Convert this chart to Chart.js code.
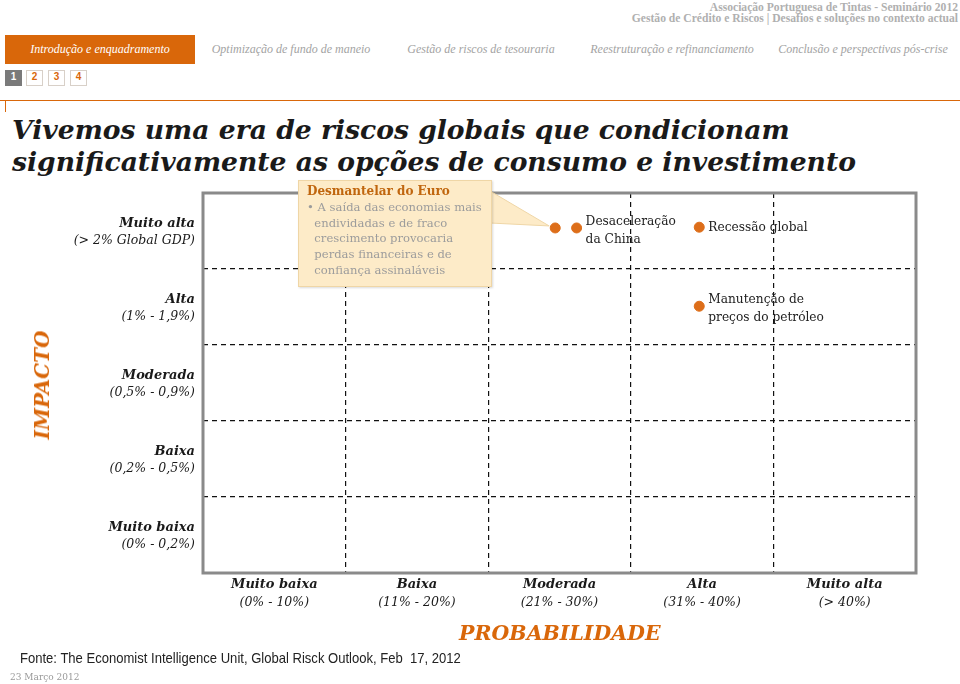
<!DOCTYPE html>
<html>
<head>
<meta charset="utf-8">
<script src="https://cdn.jsdelivr.net/npm/chart.js@4/dist/chart.umd.min.js"></script>
<style>
  body { margin: 0; width: 960px; height: 684px; position: relative; overflow: hidden; background: #fff; font-family: "DejaVu Serif", serif; }
  #chartBox { position: absolute; left: 0; top: 0; width: 960px; height: 684px; }
  .abs { position: absolute; white-space: nowrap; }
  .head { right: 2px; font-family: "Liberation Serif", serif; font-weight: bold; color: #b0b0b0; font-size: 11.6px; text-align: right; line-height: 11px; }
  .tab { top: 42px; font-family: "Liberation Serif", serif; font-style: italic; color: #a3a3a3; font-size: 12px; transform: translateX(-50%); }
  .tabOn { position: absolute; left: 5px; top: 35px; width: 190px; height: 29px; background: #d9670a; }
  .tab.on { color: #fff; }
  .pg { top: 70px; width: 15px; height: 14px; line-height: 14px; text-align: center; font: bold 10px "Liberation Sans", sans-serif; color: #d9670a; border: 1px solid #d8d0c8; }
  .pg.on { background: #7a7a7a; color: #fff; border-color: #7a7a7a; }
  #rule { left: 0; top: 100px; width: 960px; height: 1px; background: #d9670a; }
  #ruleTick { left: 5px; top: 100px; width: 1px; height: 12px; background: #d9670a; }
  .title { left: 12px; font-weight: bold; font-style: italic; color: #1a1a1a; font-size: 26.6px; }
  #impacto { left: 42px; top: 385px; transform: translate(-50%, -50%) rotate(-90deg); font-weight: bold; font-style: italic; color: #d9670a; font-size: 20px; }
  #prob { left: 459px; top: 621px; font-weight: bold; font-style: italic; color: #d9670a; font-size: 20.5px; }
  #callout { left: 298px; top: 180px; width: 194px; height: 107px; box-sizing: border-box; background: #fdebc8; border: 1px solid #efd6a6; box-shadow: 1px 1px 2px rgba(0,0,0,0.15); padding: 3px 0 0 8px; font-size: 11.6px; line-height: 15.8px; color: #9c9c9c; white-space: nowrap; }
  #callout b { color: #c0660e; font-size: 12px; }
  #fonte { left: 20px; top: 649px; font-family: "Liberation Sans", sans-serif; font-size: 15px; color: #222; transform: scaleX(0.87); transform-origin: left center; }
  #data { left: 10px; top: 672px; font-size: 9px; color: #999; }
</style>
</head>
<body>
<div class="abs head" style="top:2px">Associação Portuguesa de Tintas - Seminário 2012</div>
<div class="abs head" style="top:13px">Gestão de Crédito e Riscos | Desafios e soluções no contexto actual</div>

<div class="tabOn"></div>
<div class="abs tab on" style="left:100px">Introdução e enquadramento</div>
<div class="abs tab" style="left:291px">Optimização de fundo de maneio</div>
<div class="abs tab" style="left:481px">Gestão de riscos de tesouraria</div>
<div class="abs tab" style="left:672px">Reestruturação e refinanciamento</div>
<div class="abs tab" style="left:863px">Conclusão e perspectivas pós-crise</div>

<div class="abs pg on" style="left:5px">1</div>
<div class="abs pg" style="left:26px">2</div>
<div class="abs pg" style="left:48px">3</div>
<div class="abs pg" style="left:70px">4</div>

<div class="abs" id="rule"></div>
<div class="abs" id="ruleTick"></div>

<div class="abs title" style="top:114px">Vivemos uma era de riscos globais que condicionam</div>
<div class="abs title" style="top:146px">significativamente as opções de consumo e investimento</div>

<div id="chartBox"><canvas id="riskChart"></canvas></div>

<div class="abs" id="impacto">IMPACTO</div>
<div class="abs" id="prob">PROBABILIDADE</div>

<div class="abs" id="callout"><b>Desmantelar do Euro</b><br>• A saída das economias mais<br>&nbsp;&nbsp;endividadas e de fraco<br>&nbsp;&nbsp;crescimento provocaria<br>&nbsp;&nbsp;perdas financeiras e de<br>&nbsp;&nbsp;confiança assinaláveis</div>

<div class="abs" id="fonte">Fonte: The Economist Intelligence Unit, Global Risck Outlook, Feb&nbsp; 17, 2012</div>
<div class="abs" id="data">23 Março 2012</div>

<script>
// ===== DADOS =====
const probNomes = ["Muito baixa", "Baixa", "Moderada", "Alta", "Muito alta"];
const probIntervalos = ["(0% - 10%)", "(11% - 20%)", "(21% - 30%)", "(31% - 40%)", "(> 40%)"];
// impacto: de baixo para cima
const impactoNomes = ["Muito baixa", "Baixa", "Moderada", "Alta", "Muito alta"];
const impactoIntervalos = ["(0% - 0,2%)", "(0,2% - 0,5%)", "(0,5% - 0,9%)", "(1% - 1,9%)", "(> 2% Global GDP)"];

const riscos = ["Desmantelar do Euro", "Desaceleração da China", "Recessão global", "Manutenção de preços do petróleo"];
const riscoProb = [2.47, 2.62, 3.48, 3.48];
const riscoImpacto = [4.54, 4.54, 4.55, 3.51];
const riscoEtiquetas = [[], ["Desaceleração", "da China"], ["Recessão global"], ["Manutenção de", "preços do petróleo"]];

const LARANJA = "#dd6e1a";

// ticks no centro de cada célula
const centros = () => probNomes.map((_, i) => ({ value: i + 0.5 }));
const linhas = () => [1, 2, 3, 4].map((v) => ({ value: v }));

// ===== PLUGIN: moldura, seta da caixa e etiquetas =====
const extrasPlugin = {
  id: "extras",
  beforeDatasetsDraw(chart) {
    const { ctx, chartArea: a } = chart;
    ctx.save();
    ctx.strokeStyle = "#8a8a8a";
    ctx.lineWidth = 3;
    ctx.strokeRect(a.left, a.top, a.right - a.left, a.bottom - a.top);

    // seta da caixa "Desmantelar do Euro"
    const p = chart.getDatasetMeta(0).data[0];
    ctx.fillStyle = "#fdebc8";
    ctx.strokeStyle = "#efd6a6";
    ctx.lineWidth = 1;
    ctx.beginPath();
    ctx.moveTo(490, 191);
    ctx.lineTo(p.x - 6, p.y - 2);
    ctx.lineTo(490, 223);
    ctx.closePath();
    ctx.fill();
    ctx.stroke();
    ctx.restore();
  },
  afterDatasetsDraw(chart) {
    const { ctx } = chart;
    ctx.save();
    ctx.font = '12.2px "DejaVu Serif"';
    ctx.fillStyle = "#222";
    ctx.textBaseline = "middle";
    chart.getDatasetMeta(0).data.forEach((pt, i) => {
      const linhasTxt = riscoEtiquetas[i];
      if (!linhasTxt.length) return;
      const y0 = linhasTxt.length === 1 ? pt.y + 1 : pt.y - 6;
      linhasTxt.forEach((t, j) => ctx.fillText(t, pt.x + 9, y0 + j * 18));
    });
    ctx.restore();
  },
};

const fontNome = { family: '"DejaVu Serif"', size: 13, style: "italic", weight: "bold" };
const fontIntervalo = { family: '"DejaVu Serif"', size: 12.5, style: "italic" };

new Chart(document.getElementById("riskChart"), {
  type: "scatter",
  data: {
    datasets: [
      {
        label: "Riscos",
        data: riscos.map((r, i) => ({ x: riscoProb[i], y: riscoImpacto[i] })),
        backgroundColor: LARANJA,
        borderColor: LARANJA,
        pointRadius: 5,
        pointHoverRadius: 5,
      },
    ],
  },
  options: {
    responsive: true,
    maintainAspectRatio: false,
    animation: false,
    layout: { padding: { left: 0, top: 193, right: 44, bottom: 73 } },
    plugins: { legend: { display: false }, tooltip: { enabled: false } },
    scales: {
      xg: {
        type: "linear", position: "bottom", min: 0, max: 5, weight: 0,
        afterBuildTicks: (s) => { s.ticks = linhas(); },
        ticks: { display: false },
        grid: { color: "#111", lineWidth: 1.2, drawTicks: false },
        border: { display: false, dash: [5, 4] },
        afterFit: (s) => { s.height = 0; },
      },
      x: {
        type: "linear", position: "bottom", min: 0, max: 5, weight: 1,
        afterBuildTicks: (s) => { s.ticks = centros(); },
        ticks: {
          autoSkip: false, maxRotation: 0, padding: 4, color: "#1a1a1a", font: fontNome,
          callback: (v, i) => probNomes[i],
        },
        grid: { display: false, drawTicks: false },
        border: { display: false },
        afterFit: (s) => { s.height = 20; },
      },
      x2: {
        type: "linear", position: "bottom", min: 0, max: 5, weight: 2,
        afterBuildTicks: (s) => { s.ticks = centros(); },
        ticks: {
          autoSkip: false, maxRotation: 0, padding: 2, color: "#1a1a1a", font: fontIntervalo,
          callback: (v, i) => probIntervalos[i],
        },
        grid: { display: false, drawTicks: false },
        border: { display: false },
        afterFit: (s) => { s.height = 18; },
      },
      yg: {
        type: "linear", position: "left", min: 0, max: 5, weight: 0,
        afterBuildTicks: (s) => { s.ticks = linhas(); },
        ticks: { display: false },
        grid: { color: "#111", lineWidth: 1.2, drawTicks: false },
        border: { display: false, dash: [5, 4] },
        afterFit: (s) => { s.width = 0; },
      },
      y: {
        type: "linear", position: "left", min: 0, max: 5, weight: 1,
        // duas linhas por categoria: nome (em cima) e intervalo (em baixo)
        afterBuildTicks: (s) => {
          s.ticks = impactoNomes.flatMap((_, i) => [{ value: i + 0.6 }, { value: i + 0.375 }]);
        },
        ticks: {
          autoSkip: false, padding: 8, color: "#1a1a1a",
          font: (c) => (c.index % 2 === 0 ? fontNome : fontIntervalo),
          callback: (v, i) => (i % 2 === 0 ? impactoNomes[i >> 1] : impactoIntervalos[i >> 1]),
        },
        grid: { display: false, drawTicks: false },
        border: { display: false },
        afterFit: (s) => { s.width = 203; },
      },
    },
  },
  plugins: [extrasPlugin],
});
</script>
</body>
</html>
